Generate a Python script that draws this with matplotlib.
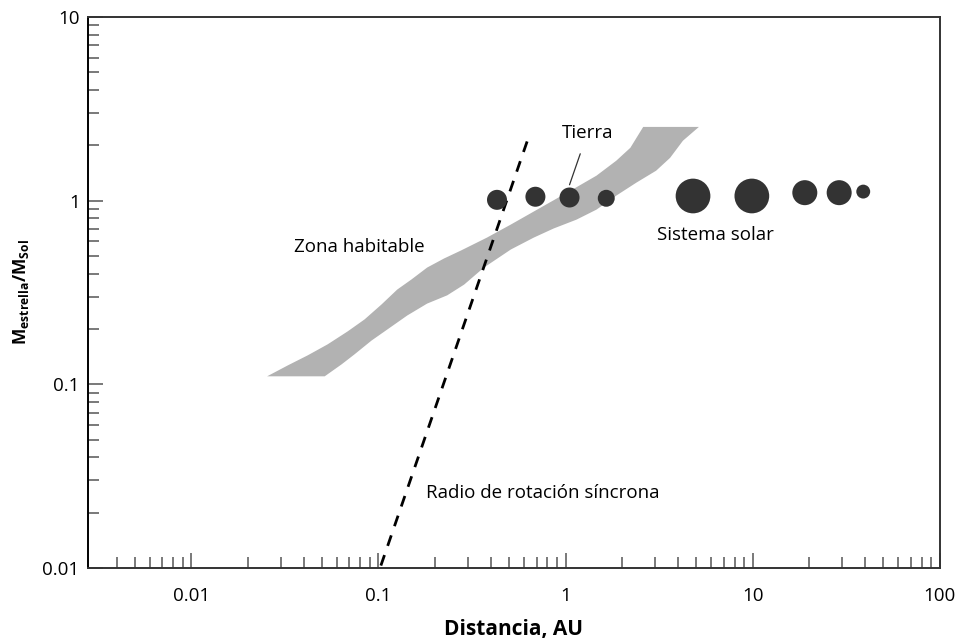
import matplotlib
matplotlib.use("Agg")
import matplotlib.pyplot as plt
from matplotlib.ticker import FixedLocator, NullFormatter

plt.rcParams['font.family'] = ['Open Sans', 'DejaVu Sans']
plt.rcParams['mathtext.fontset'] = 'custom'
plt.rcParams['mathtext.rm'] = 'Open Sans'
plt.rcParams['mathtext.bf'] = 'Open Sans:bold'

# habitable zone outline (upper edge left->right, then lower edge right->left)
zone_x = [0.0254, 0.0328, 0.0419, 0.0535, 0.0684, 0.0843, 0.1038, 0.126, 0.150, 0.182,
          0.224, 0.276, 0.380, 0.510, 0.736, 1.063, 1.462, 1.867, 2.22, 2.60, 5.16,
          4.24, 3.62, 3.05, 2.39, 1.867, 1.462, 1.144, 0.863, 0.676, 0.510, 0.366, 0.287,
          0.233, 0.182, 0.1426, 0.1117, 0.0918, 0.0745, 0.0636, 0.0516]
zone_y = [0.1105, 0.1268, 0.1438, 0.165, 0.194, 0.2256, 0.272, 0.328, 0.372, 0.432,
          0.484, 0.535, 0.629, 0.741, 0.916, 1.133, 1.367, 1.65, 1.94, 2.52, 2.52,
          2.12, 1.71, 1.456, 1.253, 1.065, 0.893, 0.788, 0.705, 0.629, 0.542, 0.432, 0.349,
          0.305, 0.275, 0.237, 0.199, 0.173, 0.1456, 0.1285, 0.1105]

# synchronous rotation radius
sync_x = [0.103, 0.628]
sync_y = [0.0103, 2.15]

# solar system planets
planet_names = ['Mercurio', 'Venus', 'Tierra', 'Marte', 'Jupiter', 'Saturno', 'Urano', 'Neptuno', 'Pluton']
planet_a = [0.43, 0.69, 1.05, 1.65, 4.8, 9.9, 19.0, 29.0, 39.0]
planet_m = [1.01, 1.05, 1.04, 1.03, 1.06, 1.06, 1.105, 1.105, 1.12]
planet_d = [14.4, 14.4, 14.4, 12.2, 25.0, 25.0, 18.0, 18.0, 10.0]  # marker diameters (pt)

fig = plt.figure(figsize=(9.56, 6.41), dpi=100)
ax = fig.add_axes([0.092, 0.114, 0.891, 0.8595])
ax.set_xscale('log')
ax.set_yscale('log')
ax.set_xlim(0.0028, 100)
ax.set_ylim(0.01, 10)

ax.fill(zone_x, zone_y, color='#b2b2b2', lw=0, zorder=1)
ax.plot(sync_x, sync_y, color='black', lw=2, ls=(0, (4, 3.5)), zorder=2)
ax.scatter(planet_a, planet_m, s=[d ** 2 for d in planet_d], color='#333333', lw=0, zorder=3)

ax.annotate('Tierra', xy=(1.05, 1.22), xytext=(1.31, 2.34), ha='center', va='center', fontsize=13.5,
            arrowprops=dict(arrowstyle='-', color='#333333', lw=0.9, shrinkA=7, shrinkB=0))
ax.text(0.0355, 0.556, 'Zona habitable', fontsize=13.5, va='center', ha='left')
ax.text(3.1, 0.653, 'Sistema solar', fontsize=13.5, va='center', ha='left')
ax.text(0.18, 0.0256, 'Radio de rotación síncrona', fontsize=13.5, va='center', ha='left')

# ticks
ax.set_xticks([0.01, 0.1, 1, 10, 100])
ax.set_xticklabels(['0.01', '0.1', '1', '10', '100'])
xminor = [m * 10.0 ** e for e in range(-3, 2) for m in range(2, 10) if m * 10.0 ** e >= 0.004]
ax.xaxis.set_minor_locator(FixedLocator(xminor))
ax.xaxis.set_minor_formatter(NullFormatter())
ax.set_yticks([0.01, 0.1, 1, 10])
ax.set_yticklabels(['0.01', '0.1', '1', '10'])
yminor = [m * 10.0 ** e for e in range(-2, 1) for m in range(2, 10)]
ax.yaxis.set_minor_locator(FixedLocator(yminor))
ax.yaxis.set_minor_formatter(NullFormatter())

ax.tick_params(axis='both', which='both', direction='in', color='#555555', width=1.1, labelsize=13.5)
ax.tick_params(axis='both', which='major', length=11)
ax.tick_params(axis='both', which='minor', length=8)
ax.tick_params(axis='x', which='major', pad=14)
ax.tick_params(axis='y', which='major', pad=6)

for side in ['left', 'bottom', 'top', 'right']:
    ax.spines[side].set_color('#333333')
    ax.spines[side].set_linewidth(1.4)
ax.spines['left'].set_color('black')

ax.set_xlabel('Distancia, AU', fontsize=15, fontweight='bold', labelpad=10)
ax.set_ylabel(r'$\mathbf{M_{estrella}/M_{Sol}}$', fontsize=12.5, labelpad=8)

fig.savefig('out.png', dpi=100)
